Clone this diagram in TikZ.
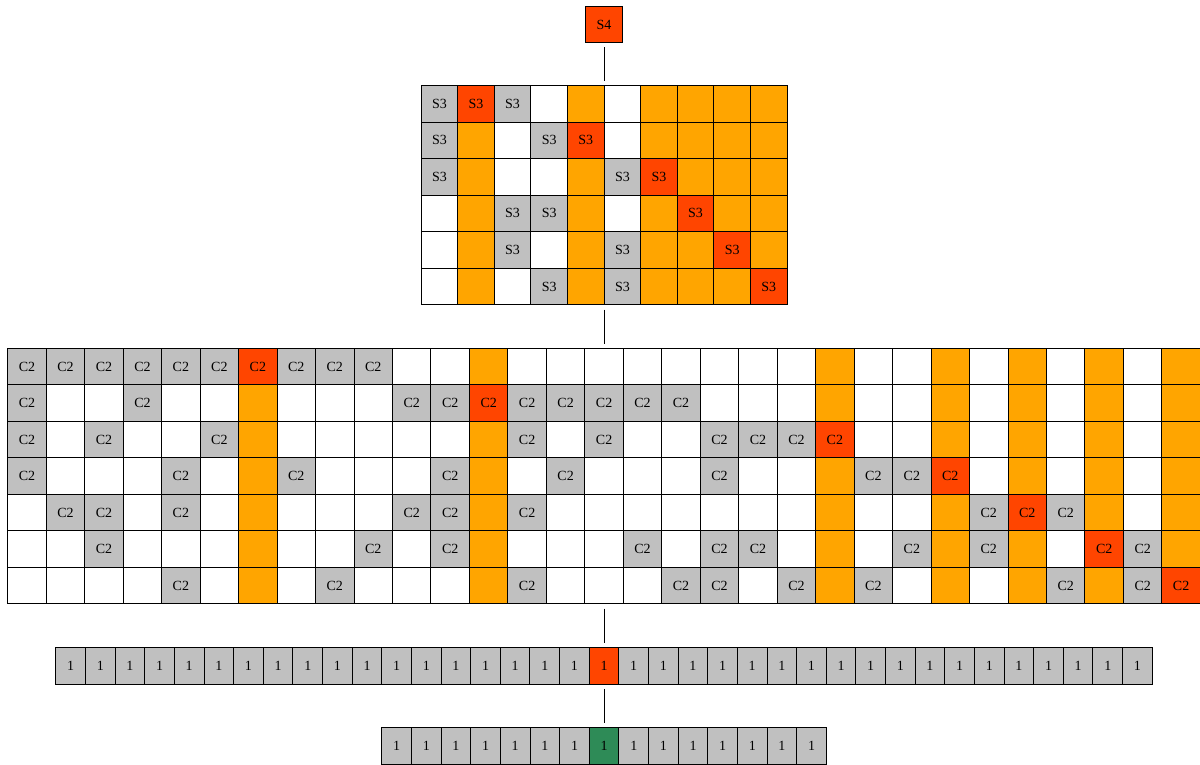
\documentclass[tikz,border=0pt]{standalone}
\usepackage{fontspec}
\setmainfont{Liberation Serif}
\usetikzlibrary{fit}
\definecolor{cg}{HTML}{C0C0C0}
\definecolor{cr}{HTML}{FF4500}
\definecolor{co}{HTML}{FFA500}
\definecolor{cw}{HTML}{FFFFFF}
\definecolor{cgreen}{HTML}{2E8B57}
\tikzset{
  cell/.style={draw=black, line width=1pt, inner sep=0pt, anchor=north west,
    font=\fontsize{14}{16}\selectfont},
  s3cell/.style={cell, minimum width=36.6pt, minimum height=36.55pt},
  c2cell/.style={cell, minimum width=38.47pt, minimum height=36.5pt},
  onecell/.style={cell, minimum width=29.63pt, minimum height=36.3pt},
  gridbox/.style={inner sep=0pt, outer sep=0pt},
  edge/.style={line width=1pt, shorten >=4.2pt, shorten <=4.2pt}
}
\begin{document}
\begin{tikzpicture}[x=1pt,y=-1pt]
\useasboundingbox (0,0) rectangle (1200,765);
% top node
\node[s3cell, fill=cr] (s4) at (585.3,5.7) {S4};
% S3 grid
\foreach \row [count=\i from 0] in {
  {g,r,g,w,o,w,o,o,o,o},
  {g,o,w,g,r,w,o,o,o,o},
  {g,o,w,w,o,g,r,o,o,o},
  {w,o,g,g,o,w,o,r,o,o},
  {w,o,g,w,o,g,o,o,r,o},
  {w,o,w,g,o,g,o,o,o,r}}{
  \foreach \c [count=\j from 0] in \row {
    \node[s3cell, fill=c\c] (s3-\i-\j) at ({420.6+36.6*\j},{85+36.55*\i})
      {\if\c w\else\if\c o\else S3\fi\fi};
  }
}
\node[gridbox, fit=(s3-0-0)(s3-5-9)] (s3grid) {};
% C2 grid
\foreach \row [count=\i from 0] in {
  {g,g,g,g,g,g,r,g,g,g,w,w,o,w,w,w,w,w,w,w,w,o,w,w,o,w,o,w,o,w,o},
  {g,w,w,g,w,w,o,w,w,w,g,g,r,g,g,g,g,g,w,w,w,o,w,w,o,w,o,w,o,w,o},
  {g,w,g,w,w,g,o,w,w,w,w,w,o,g,w,g,w,w,g,g,g,r,w,w,o,w,o,w,o,w,o},
  {g,w,w,w,g,w,o,g,w,w,w,g,o,w,g,w,w,w,g,w,w,o,g,g,r,w,o,w,o,w,o},
  {w,g,g,w,g,w,o,w,w,w,g,g,o,g,w,w,w,w,w,w,w,o,w,w,o,g,r,g,o,w,o},
  {w,w,g,w,w,w,o,w,w,g,w,g,o,w,w,w,g,w,g,g,w,o,w,g,o,g,o,w,r,g,o},
  {w,w,w,w,g,w,o,w,g,w,w,w,o,g,w,w,w,g,g,w,g,o,g,w,o,w,o,g,o,g,r}}{
  \foreach \c [count=\j from 0] in \row {
    \node[c2cell, fill=c\c] (c2-\i-\j) at ({7.3+38.47*\j},{347.8+36.5*\i})
      {\if\c w\else\if\c o\else C2\fi\fi};
  }
}
\node[gridbox, fit=(c2-0-0)(c2-6-30)] (c2grid) {};
% row of 1
\foreach \j in {0,...,36} {
  \ifnum\j=18 \def\cc{cr}\else\def\cc{cg}\fi
  \node[onecell, fill=\cc] (one-\j) at ({55.4+29.63*\j},647.3) {1};
}
\node[gridbox, fit=(one-0)(one-36)] (onerow) {};
% bottom row
\foreach \j in {0,...,14} {
  \ifnum\j=7 \def\cc{cgreen}\else\def\cc{cg}\fi
  \node[onecell, fill=\cc] (bot-\j) at ({381.4+29.63*\j},727.3) {1};
}
\node[gridbox, fit=(bot-0)(bot-14)] (botrow) {};
% connectors
\draw[edge] (s4.south) -- (s4.south |- s3grid.north);
\draw[edge] (s3grid.south) -- (s3grid.south |- c2grid.north);
\draw[edge] (c2grid.south) -- (c2grid.south |- onerow.north);
\draw[edge] (onerow.south) -- (onerow.south |- botrow.north);
\end{tikzpicture}
\end{document}
